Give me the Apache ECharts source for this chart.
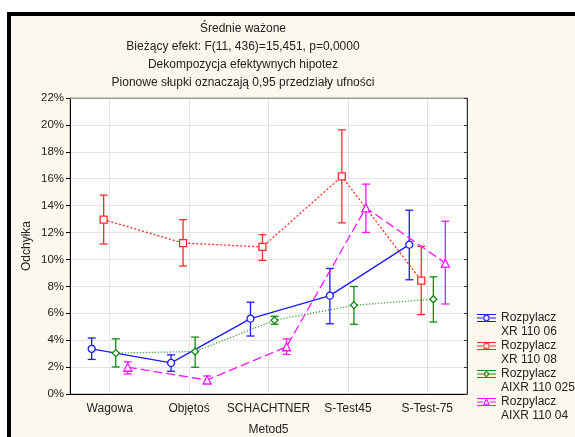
<!DOCTYPE html>
<html>
<head>
<meta charset="utf-8">
<script src="https://cdn.jsdelivr.net/npm/echarts@6/dist/echarts.min.js"></script>
<style>
  html, body { margin: 0; padding: 0; background: #fff; }
  #chart { width: 575px; height: 437px; }
</style>
</head>
<body>
<div id="chart"></div>
<script>
const categories = ["Wagowa", "Objętoś", "SCHACHTNER", "S-Test45", "S-Test-75"];
const seriesNames = ["Rozpylacz XR 110 06", "Rozpylacz XR 110 08", "Rozpylacz AIXR 110 025", "Rozpylacz AIXR 110 04"];

// means and 95% CI bounds, in %
const xr06Mean = [3.36, 2.31, 5.6, 7.31, 11.1];
const xr06Low = [2.57, 1.69, 4.31, 5.22, 8.49];
const xr06High = [4.16, 2.91, 6.82, 9.33, 13.66];

const xr08Mean = [12.96, 11.22, 10.93, 16.17, 8.43];
const xr08Low = [11.15, 9.51, 9.93, 12.72, 5.9];
const xr08High = [14.78, 12.96, 11.84, 19.63, 10.97];

const aixr025Mean = [3.04, 3.16, 5.48, 6.6, 7.04];
const aixr025Low = [2.01, 1.99, 5.18, 5.18, 5.35];
const aixr025High = [4.1, 4.23, 5.78, 7.99, 8.71];

const aixr04Mean = [1.99, 1.04, 3.51, 13.84, 9.73];
const aixr04Low = [1.49, 0.82, 2.94, 12.01, 6.69];
const aixr04High = [2.39, 1.34, 4.1, 15.6, 12.84];

const yTicks = [0, 2, 4, 6, 8, 10, 12, 14, 16, 18, 20, 22];

const means = [xr06Mean, xr08Mean, aixr025Mean, aixr04Mean];
const lows = [xr06Low, xr08Low, aixr025Low, aixr04Low];
const highs = [xr06High, xr08High, aixr025High, aixr04High];

// styling
const colors = ["#1a1aff", "#ff2a2a", "#138a13", "#ff14ff"];
const shifts = [-0.227, -0.076, 0.076, 0.227];
const symbols = ["circle", "rect", "diamond", "triangle"];
const lineTypes = ["solid", [2, 2], [1, 2], [9, 4]];

function legendIcon(kind) {
  const frame = "M0,0h0.05v0.05h-0.05z M19,28h0.05v0.05h-0.05z ";
  const bars = "M0,3h19v1h-19z M0,10h19v1h-19z M0,6.5h6v1h-6z M13,6.5h6v1h-6z M9,3h1v1.5h-1z M9,9.5h1v1.5h-1z ";
  let marker;
  if (kind === "circle") {
    marker = "M6.3,7a3.2,3.2 0 1,0 6.4,0a3.2,3.2 0 1,0 -6.4,0z M7.4,7a2.1,2.1 0 1,1 4.2,0a2.1,2.1 0 1,1 -4.2,0z";
  } else if (kind === "rect") {
    marker = "M6.5,4.3h6v5.4h-6z M7.5,5.3v3.4h4v-3.4z";
  } else if (kind === "diamond") {
    marker = "M9.5,3.5L13,7L9.5,10.5L6,7z M9.5,5L8,7L9.5,9L11,7z";
  } else {
    marker = "M9.5,3.3L13,9.7L6,9.7z M9.5,5.6L7.8,8.7L11.2,8.7z";
  }
  return "path://" + frame + bars + marker;
}

function errorBar(params, api) {
  const x = api.value(0);
  const lo = api.coord([x, api.value(1)]);
  const hi = api.coord([x, api.value(2)]);
  const half = 4;
  const style = { stroke: api.visual("color"), lineWidth: 1.3 };
  return {
    type: "group",
    children: [
      { type: "line", shape: { x1: lo[0], y1: lo[1], x2: hi[0], y2: hi[1] }, style },
      { type: "line", shape: { x1: lo[0] - half, y1: lo[1], x2: lo[0] + half, y2: lo[1] }, style },
      { type: "line", shape: { x1: hi[0] - half, y1: hi[1], x2: hi[0] + half, y2: hi[1] }, style }
    ]
  };
}

const series = [];
seriesNames.forEach((name, s) => {
  series.push({
    name,
    type: "custom",
    xAxisIndex: 2,
    yAxisIndex: 0,
    renderItem: errorBar,
    itemStyle: { color: colors[s] },
    data: categories.map((c, i) => [i + shifts[s], lows[s][i], highs[s][i]]),
    z: 2
  });
  series.push({
    name,
    type: "line",
    xAxisIndex: 2,
    yAxisIndex: 0,
    data: categories.map((c, i) => [i + shifts[s], means[s][i]]),
    symbol: symbols[s],
    symbolSize: symbols[s] === "triangle" ? 8 : 7,
    showAllSymbol: true,
    itemStyle: { color: "#fff", borderColor: colors[s], borderWidth: 1.3 },
    lineStyle: { color: colors[s], width: 1.3, type: lineTypes[s] },
    emphasis: { disabled: true },
    z: 3
  });
});

const chart = echarts.init(document.getElementById("chart"));

const textColor = "#222";
const font = "Liberation Sans, Arial, sans-serif";

chart.setOption({
  animation: false,
  backgroundColor: "#fff",
  textStyle: { fontFamily: font },
  graphic: [{
    type: "rect",
    shape: { x: 9, y: 14, width: 600, height: 460 },
    style: { fill: "#fdf8ed", stroke: "#000", lineWidth: 4 },
    z: -10,
    silent: true
  }],
  title: {
    text: "Średnie ważone\nBieżący efekt: F(11, 436)=15,451, p=0,0000\nDekompozycja efektywnych hipotez\nPionowe słupki oznaczają 0,95 przedziały ufności",
    left: 243,
    top: 20,
    padding: 0,
    textAlign: "center",
    textStyle: { fontSize: 12, fontWeight: "normal", color: textColor, lineHeight: 18, fontFamily: font }
  },
  legend: {
    left: 477,
    top: 311,
    padding: 0,
    orient: "vertical",
    itemWidth: 19,
    itemHeight: 28,
    itemGap: 0,
    selectedMode: false,
    data: seriesNames.map((n, s) => ({ name: n, icon: legendIcon(symbols[s]), itemStyle: { color: colors[s], borderWidth: 0 } })),
    formatter: (n) => n.replace(" ", "\n"),
    textStyle: { fontSize: 12, lineHeight: 14, color: textColor, fontFamily: font }
  },
  grid: {
    left: 70,
    top: 98,
    right: 108,
    bottom: 43,
    outerBoundsMode: "none",
    show: true,
    backgroundColor: "#fff",
    borderColor: "#999",
    borderWidth: 1
  },
  xAxis: [{
    type: "category",
    data: categories,
    position: "bottom",
    name: "Metod5",
    nameLocation: "middle",
    nameGap: 30,
    nameMoveOverlap: false,
    nameTextStyle: { fontSize: 12, color: textColor },
    axisLine: { onZero: false, lineStyle: { color: "#000", width: 1 } },
    axisTick: { inside: true, alignWithLabel: true, length: 3, lineStyle: { color: "#000" } },
    axisLabel: { fontSize: 12, color: textColor, margin: 9, interval: 0 },
    splitLine: { show: true, alignWithLabel: true, lineStyle: { color: "#e4e4e4" } }
  }, {
    type: "category",
    data: categories,
    position: "top",
    axisLine: { onZero: false, lineStyle: { color: "#999" } },
    axisTick: { inside: true, alignWithLabel: true, length: 3, lineStyle: { color: "#333" } },
    axisLabel: { show: false },
    splitLine: { show: false }
  }, {
    type: "value",
    min: -0.5,
    max: 4.5,
    show: false
  }],
  yAxis: [{
    type: "value",
    min: yTicks[0],
    max: yTicks[yTicks.length - 1],
    interval: 2,
    name: "Odchyłka",
    nameLocation: "middle",
    nameGap: 37,
    nameMoveOverlap: false,
    nameTextStyle: { fontSize: 12, color: textColor },
    axisLine: { show: true, onZero: false, lineStyle: { color: "#000" } },
    axisTick: { show: true, length: 4, lineStyle: { color: "#000" } },
    axisLabel: { fontSize: 11.5, color: textColor, formatter: "{value}%", margin: 6 },
    splitLine: { show: true, lineStyle: { color: "#e4e4e4" } }
  }, {
    type: "value",
    position: "right",
    min: yTicks[0],
    max: yTicks[yTicks.length - 1],
    interval: 2,
    axisLine: { show: true, onZero: false, lineStyle: { color: "#333" } },
    axisTick: { show: true, inside: true, length: 3, lineStyle: { color: "#333" } },
    axisLabel: { show: false },
    splitLine: { show: false }
  }],
  series
});
</script>
</body>
</html>
